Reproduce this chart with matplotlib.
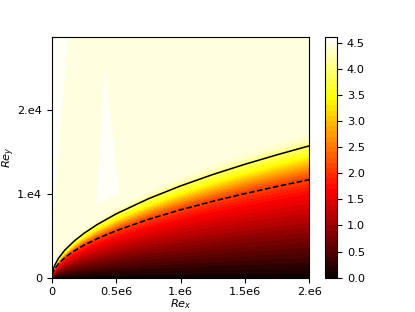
import numpy as np
import matplotlib
matplotlib.use("Agg")
import matplotlib.pyplot as plt
from matplotlib.path import Path

plt.rcParams['font.size'] = 8.2

# ---- data ----
# solid curve (edge of the layer)
solid_rex = [0.002e6, 0.005e6, 0.02e6, 0.05e6, 0.1e6, 0.175e6, 0.25e6, 0.35e6, 0.5e6,
             0.75e6, 1.0e6, 1.25e6, 1.5e6, 1.75e6, 2.0e6]
solid_rey = [425, 686, 1416, 2290, 3287, 4402, 5305, 6327, 7625,
             9427, 10960, 12318, 13545, 14680, 15745]
# dashed curve
dash_rex = [0.002e6, 0.005e6, 0.02e6, 0.05e6, 0.1e6, 0.175e6, 0.25e6, 0.35e6, 0.5e6,
            0.75e6, 1.0e6, 1.25e6, 1.5e6, 1.75e6, 2.0e6]
dash_rey = [301, 489, 1019, 1657, 2392, 3217, 3884, 4646, 5610,
            6959, 8104, 9122, 10043, 10899, 11707]
# field profile versus height normalised by the solid curve
prof_s = [0.0, 0.076, 0.31, 0.64, 0.77, 0.81, 0.92, 1.0, 1.05, 1.1, 3.0]
prof_v = [0.0, 0.2, 0.8, 1.7, 2.2, 2.5, 3.4, 3.95, 4.3, 4.42, 4.42]
# overshoot regions (slightly higher value)
tri_rex = [0.414e6, 0.349e6, 0.5225e6]
tri_rey = [24640, 8890, 10020]
strip_rex = [0.0, 0.0, 0.12e6]
strip_rey = [5000, 28700, 28700]
over_value = 4.56

x_ticks = [0, 0.5e6, 1.0e6, 1.5e6, 2.0e6]
x_labels = ['0', '0.5e6', '1.e6', '1.5e6', '2.e6']
y_ticks = [0, 1e4, 2e4]
y_labels = ['0', '1.e4', '2.e4']

# ---- field ----
rex = np.linspace(1e3, 2e6, 500)
rey = np.linspace(0, 28700, 400)
X, Y = np.meshgrid(rex, rey)
delta = np.interp(X, [0] + solid_rex, [300] + solid_rey)
S = Y / delta
Z = np.interp(S, prof_s, prof_v)
pts = np.column_stack([X.ravel(), Y.ravel()])
for px, py in ((tri_rex, tri_rey), (strip_rex, strip_rey)):
    path = Path(np.column_stack([px, py]))
    inside = path.contains_points(pts).reshape(X.shape)
    Z[inside & (Z > 4.3)] = over_value

fig = plt.figure(figsize=(4.15, 3.12), dpi=100)
ax = fig.add_subplot(111)
levels = np.linspace(0, 4.6, 47)
cf = ax.contourf(X, Y, Z, levels=levels, cmap='hot')
ax.plot(solid_rex, solid_rey, 'k-', lw=1.1)
ax.plot(dash_rex, dash_rey, 'k--', lw=1.1)
ax.set_xlim(0, 2e6)
ax.set_ylim(0, 28700)
ax.set_xticks(x_ticks)
ax.set_xticklabels(x_labels)
ax.set_yticks(y_ticks)
ax.set_yticklabels(y_labels)
ax.set_xlabel('$Re_x$', labelpad=0)
ax.set_ylabel('$Re_y$', labelpad=0)
cb = fig.colorbar(cf, ax=ax)
cb.set_ticks([0, 0.5, 1.0, 1.5, 2.0, 2.5, 3.0, 3.5, 4.0, 4.5])
fig.savefig('out.png', dpi=100)
